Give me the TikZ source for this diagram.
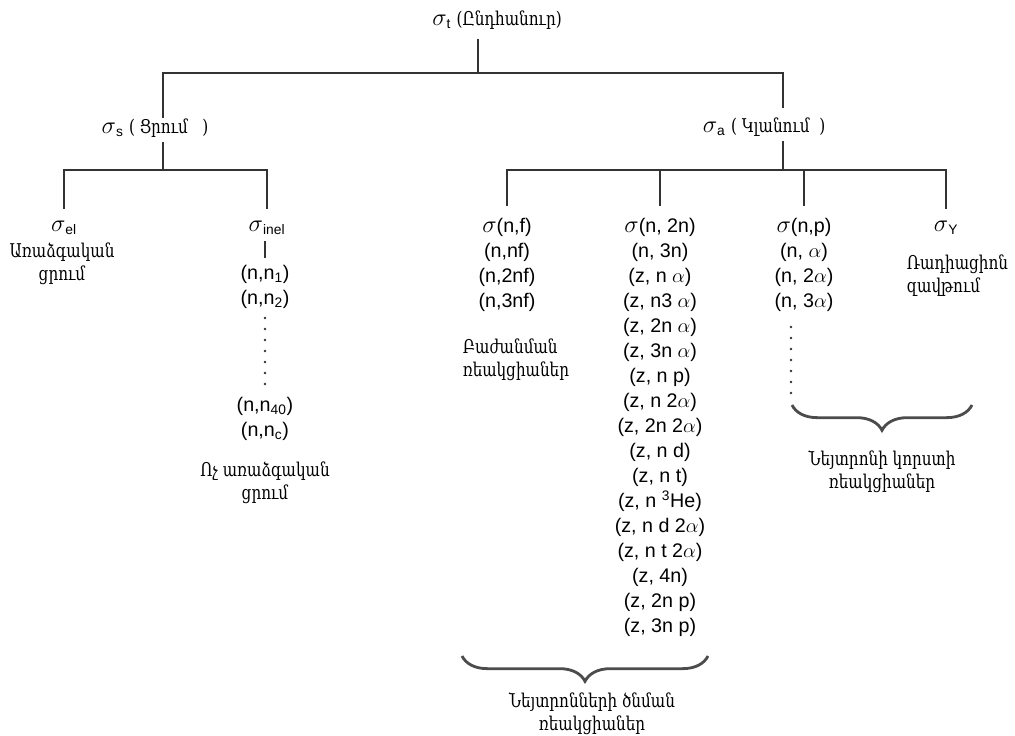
\documentclass[tikz,border=0pt]{standalone}
\usepackage{fontspec}
\setmainfont{Liberation Sans}
\newfontfamily\armfont[FakeStretch=0.8]{DejaVu Serif}
\newcommand\sig{{\fontsize{17}{17}\selectfont$\sigma$}}
\usetikzlibrary{positioning,decorations.pathreplacing}

\begin{document}
\begin{tikzpicture}[x=0.025cm, y=-0.025cm, line width=1.1pt, draw=black!80,
    every node/.style={inner sep=0pt, font=\fontsize{14}{17.8}\selectfont}]
    % Stili
    \tikzstyle{col}=[align=center, anchor=north]
    \tikzstyle{arm}=[align=center, font=\armfont\fontsize{13.5}{16.5}\selectfont]
    \tikzstyle{brc}=[decorate, decoration={brace, mirror, amplitude=18pt}, line width=2pt, draw=black!70]

    \useasboundingbox (0,0) rectangle (1015,736);

    % Nodi
    \node (tot) at (497,20) {\sig\textsubscript{t} {\armfont\fontsize{13.5}{14}\selectfont(Ընդհանուր)}};
    \node (scat) at (155,128) {\sig\textsubscript{s} {\armfont\fontsize{13.5}{14}\selectfont( Ցրում~~~)}};
    \node (absn) at (764,127) {\sig\textsubscript{a} {\armfont\fontsize{13.5}{14}\selectfont( Կլանում~~)}};

    \node (el) at (64,228) {\sig\textsubscript{el}};
    \node (elt) [arm] at (62,264) {Առաձգական\\ցրում};
    \node (inel) at (267,228) {\sig\textsubscript{inel}};
    \node (in12) [col] at (265,264) {(n,n\textsubscript{1})\\(n,n\textsubscript{2})};
    \node (in40) [col] at (265,396) {(n,n\textsubscript{40})\\(n,n\textsubscript{c})};
    \node (inelt) [arm] at (265,483) {Ոչ առաձգական\\ցրում};

    \node (fis) [col] at (507,217) {\sig(n,f)\\(n,nf)\\(n,2nf)\\(n,3nf)};
    \node (fist) [arm, align=left, anchor=west] at (462,360) {Բաժանման\\ռեակցիաներ};
    \node (prod) [col] at (660,217) {\sig(n, 2n)\\(n, 3n)\\(z, n $\alpha$)\\(z, n3 $\alpha$)\\(z, 2n $\alpha$)\\(z, 3n $\alpha$)\\(z, n p)\\(z, n 2$\alpha$)\\(z, 2n 2$\alpha$)\\(z, n d)\\(z, n t)\\(z, n \textsuperscript{3}He)\\(z, n d 2$\alpha$)\\(z, n t 2$\alpha$)\\(z, 4n)\\(z, 2n p)\\(z, 3n p)};
    \node (loss) [col] at (804,217) {\sig(n,p)\\(n, $\alpha$)\\(n, 2$\alpha$)\\(n, 3$\alpha$)};
    \node (gam) at (946,228) {\sig\textsubscript{Y}};
    \node (gamt) [arm, align=left, anchor=west] at (906,276) {Ռադիացիոն\\զավթում};

    \node (prodt) [arm] at (592,714) {Նեյտրոնների ծնման\\ռեակցիաներ};
    \node (losst) [arm] at (882,472) {Նեյտրոնի կորստի\\ռեակցիաներ};

    % Giunzioni
    \coordinate (js) at (163,73);
    \coordinate (ja) at (783,73);
    \coordinate (jsd) at (163,170);
    \coordinate (jad) at (783,170);

    % Collegamenti
    \draw[shorten <=6pt] (tot.south -| 478,0) -- (478,73);
    \draw[shorten >=6pt] (js |- scat.north) -- (js) -- (ja) -- (ja |- absn.north);
    \draw[shorten <=3pt] (scat.south -| jsd) -- (jsd);
    \draw[shorten <=3pt] (absn.south -| jad) -- (jad);
    \draw[shorten <=8pt, shorten >=8pt] (el.north) -- (el.north |- jsd) -- (inel.north |- jsd) -- (inel.north);
    \draw[shorten <=8pt, shorten >=8pt] (fis.north) -- (fis.north |- jad) -- (gam.north |- jad) -- (gam.north);
    \draw[shorten >=8pt] (prod.north |- jad) -- (prod.north);
    \draw[shorten >=8pt] (loss.north |- jad) -- (loss.north);
    \draw[shorten <=4pt, shorten >=4pt] (inel.south -| in12) -- (in12.north);

    % Puntini
    \foreach \y in {318,329,...,385} \fill[black!80] (265,\y) circle (0.9pt);
    \foreach \y in {327,338,...,395} \fill[black!80] (791,\y) circle (0.9pt);

    % Parentesi
    \draw[brc] (462,656) -- (708,656);
    \draw[brc] (792,405) -- (972,405);
\end{tikzpicture}
\end{document}
